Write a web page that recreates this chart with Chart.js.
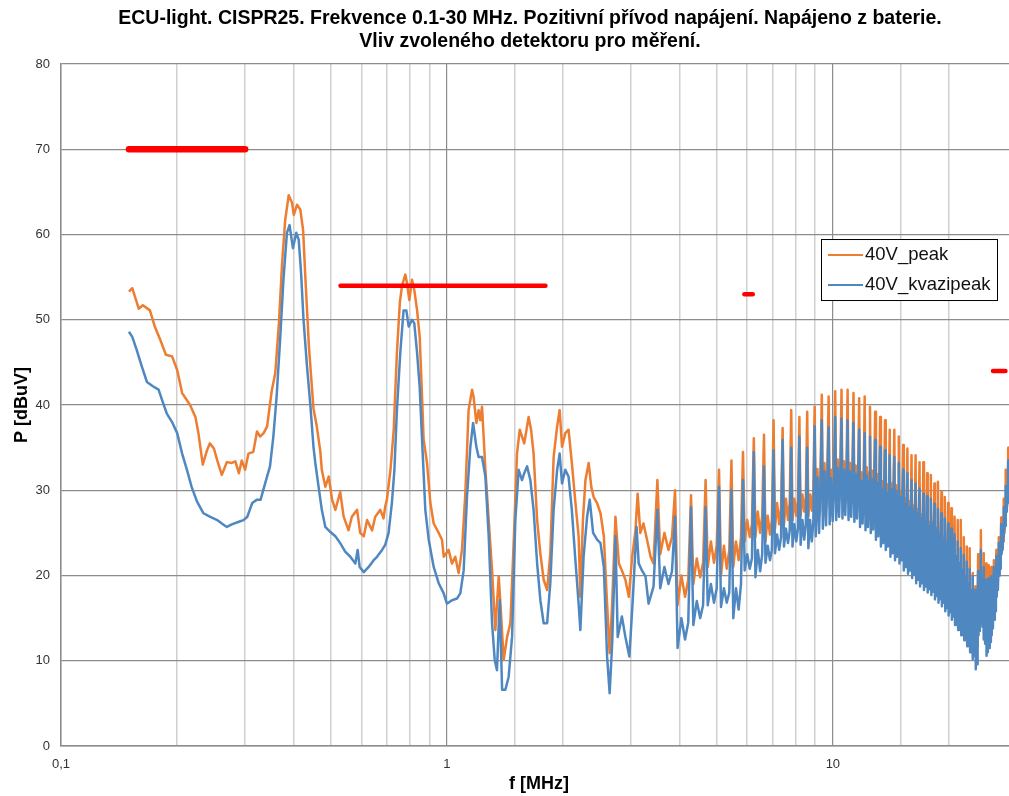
<!DOCTYPE html>
<html>
<head>
<meta charset="utf-8">
<script src="https://cdn.jsdelivr.net/npm/chart.js@4.4.0/dist/chart.umd.min.js"></script>
<style>
  html, body { margin: 0; padding: 0; background: #fff; overflow: hidden; }
</style>
</head>
<body>
<canvas id="chart" width="1060" height="796"></canvas>
<script>
// 40V_peak below the comb region (MHz / dBuV)
const peakFreqLow = [
  0.150, 0.153, 0.159, 0.163, 0.170, 0.175, 0.181, 0.187, 0.194, 0.200,
  0.206, 0.216, 0.223, 0.227, 0.233, 0.239, 0.243, 0.249, 0.254, 0.261,
  0.269, 0.277, 0.283, 0.289, 0.294, 0.300, 0.306, 0.315, 0.322, 0.328,
  0.335, 0.342, 0.352, 0.359, 0.367, 0.374, 0.381, 0.389, 0.397, 0.401,
  0.409, 0.417, 0.424, 0.430, 0.439, 0.451, 0.460, 0.470, 0.474, 0.484,
  0.494, 0.504, 0.514, 0.529, 0.540, 0.556, 0.567, 0.585, 0.596, 0.609,
  0.621, 0.640, 0.652, 0.672, 0.685, 0.692, 0.699, 0.714, 0.728, 0.742,
  0.755, 0.765, 0.780, 0.788, 0.799, 0.812, 0.823, 0.837, 0.850, 0.862,
  0.870, 0.888, 0.906, 0.924, 0.952, 0.971, 0.981, 1.010, 1.031, 1.051,
  1.072, 1.094, 1.116, 1.138, 1.162, 1.172, 1.192, 1.208, 1.220, 1.233,
  1.258, 1.283, 1.309, 1.335, 1.362, 1.376, 1.403, 1.432, 1.460, 1.489,
  1.519, 1.544, 1.565, 1.586, 1.613, 1.628, 1.652, 1.677, 1.713, 1.746,
  1.781, 1.818, 1.853, 1.890, 1.930, 1.959, 1.987, 2.026, 2.066, 2.107,
  2.149, 2.194, 2.217, 2.251, 2.285, 2.330, 2.366, 2.400, 2.450, 2.500,
  2.550, 2.600, 2.640, 2.680, 2.733, 2.790, 2.840, 2.900, 2.960, 3.020,
  3.080, 3.120, 3.170, 3.230, 3.300, 3.370, 3.430
]
const peakLow = [
  53.3, 53.7, 51.3, 51.7, 51.1, 49.2, 47.6, 45.9, 45.7, 44.1,
  41.4, 40.0, 38.6, 36.7, 33.0, 34.7, 35.5, 34.9, 33.5, 31.8,
  33.3, 33.2, 33.4, 32.0, 33.5, 32.4, 34.3, 34.5, 36.9, 36.3,
  36.7, 37.5, 41.8, 43.7, 49.6, 56.6, 61.7, 64.6, 63.7, 62.3,
  63.5, 62.9, 60.5, 54.7, 46.8, 39.6, 37.5, 34.5, 32.4, 30.4,
  31.6, 28.9, 27.7, 29.8, 26.9, 25.3, 26.9, 27.7, 25.0, 24.6,
  26.5, 25.3, 26.9, 27.7, 26.7, 28.1, 28.9, 32.4, 37.1, 46.1,
  52.0, 54.0, 55.3, 54.3, 52.3, 54.7, 53.5, 51.1, 48.0, 41.0,
  36.0, 33.2, 28.5, 26.1, 25.0, 24.2, 22.2, 23.0, 21.4, 22.2,
  20.3, 23.0, 29.6, 39.4, 41.8, 41.0, 37.9, 39.4, 38.2, 39.8,
  32.4, 26.5, 20.6, 13.6, 19.9, 16.7, 10.1, 12.8, 14.4, 23.8,
  34.3, 37.1, 36.3, 35.5, 37.5, 38.6, 37.1, 34.3, 26.5, 22.6,
  19.5, 18.3, 22.6, 33.9, 37.5, 39.4, 35.1, 36.7, 37.1, 33.2,
  28.9, 24.6, 17.5, 26.5, 31.2, 33.2, 30.4, 29.2, 28.5, 27.3,
  24.6, 16.7, 10.9, 16.7, 26.9, 21.4, 20.6, 19.5, 17.5, 22.2,
  25.3, 29.6, 25.0, 26.1, 24.2, 22.2, 21.4
]

// 40V_kvazipeak below the comb region
const qpFreqLow = [
  0.150, 0.153, 0.157, 0.162, 0.167, 0.173, 0.179, 0.184, 0.188, 0.194,
  0.200, 0.206, 0.212, 0.218, 0.225, 0.234, 0.243, 0.254, 0.261, 0.269,
  0.277, 0.289, 0.297, 0.304, 0.313, 0.322, 0.329, 0.338, 0.348, 0.355,
  0.362, 0.370, 0.377, 0.385, 0.391, 0.399, 0.407, 0.413, 0.419, 0.425,
  0.434, 0.443, 0.451, 0.456, 0.465, 0.474, 0.484, 0.499, 0.514, 0.529,
  0.545, 0.562, 0.579, 0.587, 0.594, 0.609, 0.627, 0.646, 0.659, 0.679,
  0.692, 0.706, 0.720, 0.731, 0.742, 0.757, 0.772, 0.785, 0.796, 0.812,
  0.823, 0.837, 0.850, 0.865, 0.879, 0.897, 0.924, 0.952, 0.981, 1.000,
  1.031, 1.062, 1.083, 1.105, 1.127, 1.150, 1.169, 1.192, 1.208, 1.233,
  1.258, 1.283, 1.309, 1.330, 1.348, 1.370, 1.390, 1.417, 1.445, 1.475,
  1.504, 1.534, 1.565, 1.586, 1.613, 1.645, 1.677, 1.713, 1.746, 1.781,
  1.818, 1.853, 1.890, 1.930, 1.959, 1.987, 2.026, 2.066, 2.107, 2.149,
  2.194, 2.217, 2.260, 2.308, 2.344, 2.392, 2.450, 2.500, 2.550, 2.600,
  2.640, 2.680, 2.733, 2.770, 2.840, 2.900, 2.970, 3.030, 3.100, 3.140,
  3.200, 3.270, 3.330, 3.430
]
const qpLow = [
  48.6, 48.0, 46.5, 44.5, 42.7, 42.2, 41.8, 40.2, 39.0, 38.0,
  36.7, 34.3, 32.4, 30.4, 28.7, 27.3, 26.9, 26.5, 26.1, 25.7,
  26.0, 26.3, 26.5, 26.9, 28.5, 28.9, 28.9, 30.8, 32.8, 36.3,
  41.0, 48.0, 54.7, 60.2, 61.1, 58.4, 60.2, 59.4, 55.4, 50.0,
  44.5, 39.8, 35.1, 33.2, 30.4, 27.7, 25.7, 25.1, 24.6, 23.8,
  22.8, 22.2, 21.4, 23.0, 21.0, 20.4, 21.0, 21.8, 22.2, 23.0,
  23.6, 25.0, 28.5, 32.4, 39.4, 46.1, 51.1, 51.1, 49.2, 50.0,
  49.6, 46.1, 42.1, 34.5, 27.7, 24.2, 21.0, 19.1, 17.9, 16.7,
  17.1, 17.3, 17.9, 20.6, 29.2, 35.1, 37.9, 35.1, 33.9, 33.9,
  31.6, 24.6, 14.4, 10.1, 8.9, 17.1, 6.6, 6.6, 8.1, 12.8,
  26.5, 32.4, 31.2, 32.0, 32.8, 31.2, 27.7, 21.4, 17.1, 14.4,
  14.4, 19.1, 27.7, 32.4, 34.3, 30.8, 32.4, 31.6, 27.7, 22.2,
  16.7, 13.6, 22.2, 26.9, 28.9, 25.0, 24.2, 23.8, 21.0, 10.5,
  6.2, 12.0, 24.6, 12.8, 15.2, 12.8, 10.5, 17.1, 25.7, 21.4,
  20.6, 19.9, 16.7, 18.7
]

// harmonic comb above 3.5 MHz, five samples per harmonic (spike first)
const combFreq = [
  3.51, 3.57, 3.66, 3.75, 3.83,   3.90, 3.96, 4.05, 4.14, 4.22,
  4.29, 4.35, 4.44, 4.53, 4.61,   4.68, 4.74, 4.83, 4.92, 5.00,
  5.07, 5.13, 5.22, 5.31, 5.39,   5.46, 5.52, 5.61, 5.70, 5.78,
  5.85, 5.91, 6.00, 6.09, 6.17,   6.24, 6.30, 6.39, 6.48, 6.56,
  6.63, 6.69, 6.78, 6.87, 6.95,   7.02, 7.08, 7.17, 7.26, 7.34,
  7.41, 7.47, 7.56, 7.65, 7.73,   7.80, 7.86, 7.95, 8.04, 8.12,
  8.19, 8.25, 8.34, 8.43, 8.51,   8.58, 8.64, 8.73, 8.82, 8.90,
  8.97, 9.03, 9.12, 9.21, 9.29,   9.36, 9.42, 9.51, 9.60, 9.68,
  9.75, 9.81, 9.90, 9.99, 10.07,   10.14, 10.20, 10.29, 10.38, 10.46,
  10.53, 10.59, 10.68, 10.77, 10.85,   10.92, 10.98, 11.07, 11.16, 11.24,
  11.31, 11.37, 11.46, 11.55, 11.63,   11.70, 11.76, 11.85, 11.94, 12.02,
  12.09, 12.15, 12.24, 12.33, 12.41,   12.48, 12.54, 12.63, 12.72, 12.80,
  12.87, 12.93, 13.02, 13.11, 13.19,   13.26, 13.32, 13.41, 13.50, 13.58,
  13.65, 13.71, 13.80, 13.89, 13.97,   14.04, 14.10, 14.19, 14.28, 14.36,
  14.43, 14.49, 14.58, 14.67, 14.75,   14.82, 14.88, 14.97, 15.06, 15.14,
  15.21, 15.27, 15.36, 15.45, 15.53,   15.60, 15.66, 15.75, 15.84, 15.92,
  15.99, 16.05, 16.14, 16.23, 16.31,   16.38, 16.44, 16.53, 16.62, 16.70,
  16.77, 16.83, 16.92, 17.01, 17.09,   17.16, 17.22, 17.31, 17.40, 17.48,
  17.55, 17.61, 17.70, 17.79, 17.87,   17.94, 18.00, 18.09, 18.18, 18.26,
  18.33, 18.39, 18.48, 18.57, 18.65,   18.72, 18.78, 18.87, 18.96, 19.04,
  19.11, 19.17, 19.26, 19.35, 19.43,   19.50, 19.56, 19.65, 19.74, 19.82,
  19.89, 19.95, 20.04, 20.13, 20.21,   20.28, 20.34, 20.43, 20.52, 20.60,
  20.67, 20.73, 20.82, 20.91, 20.99,   21.06, 21.12, 21.21, 21.30, 21.38,
  21.45, 21.51, 21.60, 21.69, 21.77,   21.84, 21.90, 21.99, 22.08, 22.16,
  22.23, 22.29, 22.38, 22.47, 22.55,   22.62, 22.68, 22.77, 22.86, 22.94,
  23.01, 23.07, 23.16, 23.25, 23.33,   23.40, 23.46, 23.55, 23.64, 23.72,
  23.79, 23.85, 23.94, 24.03, 24.11,   24.18, 24.24, 24.33, 24.42, 24.50,
  24.57, 24.63, 24.72, 24.81, 24.89,   24.96, 25.02, 25.11, 25.20, 25.28,
  25.35, 25.41, 25.50, 25.59, 25.67,   25.74, 25.80, 25.89, 25.98, 26.06,
  26.13, 26.19, 26.28, 26.37, 26.45,   26.52, 26.58, 26.67, 26.76, 26.84,
  26.91, 26.97, 27.06, 27.15, 27.23,   27.30, 27.36, 27.45, 27.54, 27.62,
  27.69, 27.75, 27.84, 27.93, 28.01,   28.08, 28.14, 28.23, 28.32, 28.40,
  28.47, 28.53, 28.62, 28.71, 28.79
]
const peakComb = [
  31.2, 22.5, 25.0, 23.0, 24.5,   30.0, 16.5, 20.0, 17.5, 19.5,
  29.4, 19.0, 22.0, 19.8, 21.5,   31.2, 21.0, 24.0, 21.5, 23.5,
  32.4, 20.0, 23.5, 20.8, 23.0,   33.5, 21.0, 24.0, 21.8, 24.5,
  34.5, 24.0, 26.5, 24.5, 26.0,   36.1, 24.5, 27.5, 25.0, 27.0,
  36.5, 24.0, 27.0, 24.8, 26.5,   38.2, 25.5, 28.5, 26.0, 28.0,
  37.3, 26.0, 29.0, 26.5, 28.5,   39.4, 26.5, 29.0, 27.0, 28.8,
  38.6, 27.0, 29.5, 27.5, 29.2,   39.2, 27.0, 29.5, 27.6, 30.0,
  39.8, 26.6, 32.5, 27.0, 31.9,   41.2, 27.5, 33.2, 27.9, 32.6,
  41.0, 28.0, 32.4, 28.4, 31.8,   41.6, 28.5, 33.6, 28.9, 33.0,
  41.8, 28.7, 33.4, 29.1, 32.8,   41.8, 28.5, 33.2, 28.9, 32.6,
  41.4, 28.3, 32.9, 28.7, 32.3,   40.8, 27.7, 32.1, 28.1, 31.5,
  41.0, 27.3, 32.7, 27.7, 32.1,   39.8, 27.0, 32.3, 27.4, 31.7,
  39.2, 26.2, 31.9, 26.6, 31.3,   38.6, 25.4, 31.1, 25.8, 30.5,
  38.2, 25.0, 30.7, 25.4, 30.1,   37.1, 24.2, 30.8, 24.6, 30.2,
  37.1, 23.8, 30.6, 24.2, 30.0,   36.3, 23.4, 29.9, 23.8, 29.3,
  35.3, 22.6, 29.1, 23.0, 28.5,   34.9, 22.2, 28.7, 22.6, 28.1,
  34.1, 21.7, 28.2, 22.1, 27.6,   34.1, 21.1, 27.8, 21.5, 27.2,
  33.3, 20.7, 27.2, 21.1, 26.6,   33.3, 20.3, 26.6, 20.7, 26.0,
  32.0, 20.0, 26.3, 20.4, 25.7,   31.8, 19.7, 26.3, 20.1, 25.7,
  30.8, 19.2, 25.7, 19.6, 25.1,   31.0, 18.8, 25.1, 19.2, 24.5,
  29.8, 18.4, 24.6, 18.8, 24.0,   29.2, 17.8, 24.0, 18.2, 23.4,
  28.5, 17.3, 23.1, 17.7, 22.5,   27.9, 16.8, 22.5, 17.2, 21.9,
  26.9, 16.2, 21.8, 16.6, 21.2,   26.5, 15.6, 21.0, 16.0, 20.4,
  26.5, 15.0, 20.2, 15.4, 19.6,   24.5, 14.4, 19.4, 14.8, 18.8,
  23.4, 13.7, 18.6, 14.1, 18.0,   23.2, 13.0, 17.8, 13.4, 17.2,
  20.3, 12.2, 16.9, 12.6, 16.3,   18.7, 11.0, 15.3, 11.6, 15.0,
  22.5, 15.0, 17.5, 15.5, 17.0,   25.3, 16.8, 19.0, 16.0, 18.0,
  22.6, 14.5, 18.0, 14.0, 17.0,   21.4, 12.6, 16.5, 13.0, 16.3,
  21.2, 13.5, 16.7, 14.2, 16.5,   21.0, 15.0, 16.9, 15.8, 17.1,
  21.8, 16.8, 18.0, 17.8, 18.5,   23.0, 19.5, 19.3, 20.3, 20.0,
  24.5, 22.0, 20.8, 22.8, 21.7,   26.8, 24.5, 23.0, 25.2, 24.0,
  29.0, 27.0, 25.0, 27.8, 26.3,   32.4, 29.5, 27.5, 30.5, 29.0,
  35.0, 33.0, 30.5, 33.8, 32.0
]
const qpComb = [
  27.7, 18.5, 21.0, 19.0, 20.5,   26.9, 11.5, 15.0, 12.5, 14.5,
  28.0, 14.2, 17.0, 15.0, 16.5,   28.0, 16.5, 19.0, 16.8, 18.5,
  30.4, 16.3, 18.5, 16.8, 18.0,   30.0, 15.0, 18.5, 16.0, 19.0,
  31.2, 20.6, 22.5, 20.8, 22.0,   34.5, 19.8, 23.0, 20.5, 22.5,
  32.8, 21.5, 23.5, 21.8, 23.0,   34.7, 22.6, 24.8, 23.0, 24.5,
  35.9, 23.4, 25.5, 23.8, 25.2,   35.0, 23.4, 26.0, 24.0, 25.5,
  36.3, 23.6, 26.5, 24.2, 26.0,   35.0, 23.2, 26.5, 24.0, 26.2,
  37.5, 24.6, 31.5, 25.0, 30.9,   38.2, 25.5, 32.2, 25.9, 31.6,
  37.4, 26.0, 31.4, 26.4, 30.8,   38.6, 26.5, 32.6, 26.9, 32.0,
  38.4, 26.7, 32.4, 27.1, 31.8,   38.2, 26.5, 32.2, 26.9, 31.6,
  37.9, 26.3, 31.9, 26.7, 31.3,   37.1, 25.7, 31.1, 26.1, 30.5,
  36.7, 25.3, 31.7, 25.7, 31.1,   36.3, 25.0, 31.3, 25.4, 30.7,
  35.9, 24.2, 30.9, 24.6, 30.3,   35.1, 23.4, 30.1, 23.8, 29.5,
  34.7, 23.0, 29.7, 23.4, 29.1,   34.1, 22.2, 30.1, 22.6, 29.5,
  33.9, 21.8, 29.9, 22.2, 29.3,   33.2, 21.4, 29.2, 21.8, 28.6,
  32.4, 20.6, 28.4, 21.0, 27.8,   32.0, 20.2, 28.0, 20.6, 27.4,
  31.2, 19.7, 27.7, 20.1, 27.1,   30.8, 19.1, 27.3, 19.5, 26.7,
  30.2, 18.7, 26.7, 19.1, 26.1,   29.6, 18.3, 26.1, 18.7, 25.5,
  29.3, 18.0, 25.8, 18.4, 25.2,   29.0, 17.7, 26.0, 18.1, 25.4,
  28.4, 17.2, 25.4, 17.6, 24.8,   27.8, 16.8, 24.8, 17.2, 24.2,
  27.3, 16.4, 24.3, 16.8, 23.7,   26.7, 15.8, 23.7, 16.2, 23.1,
  26.1, 15.3, 23.6, 15.7, 23.0,   25.5, 14.8, 23.0, 15.2, 22.4,
  24.8, 14.2, 22.3, 14.6, 21.7,   24.0, 13.6, 21.5, 14.0, 20.9,
  23.2, 13.0, 20.7, 13.4, 20.1,   22.4, 12.4, 19.9, 12.8, 19.3,
  21.6, 11.7, 19.1, 12.1, 18.5,   20.8, 11.0, 18.3, 11.4, 17.7,
  19.9, 10.2, 17.4, 10.6, 16.8,   18.3, 9.0, 15.8, 9.6, 15.5,
  20.5, 13.0, 18.0, 13.5, 17.5,   23.0, 14.8, 19.5, 14.0, 18.5,
  21.0, 12.5, 18.5, 12.0, 17.5,   19.5, 10.6, 17.0, 11.0, 16.8,
  19.7, 11.5, 17.2, 12.2, 17.0,   19.9, 13.0, 17.4, 13.8, 17.6,
  21.0, 14.8, 18.5, 15.8, 19.0,   22.3, 17.5, 19.8, 18.3, 20.5,
  23.8, 20.0, 21.3, 20.8, 22.2,   26.0, 22.5, 23.5, 23.2, 24.5,
  28.0, 25.0, 25.5, 25.8, 26.8,   30.5, 27.5, 28.0, 28.5, 29.5,
  33.5, 31.0, 31.0, 31.8, 32.5
]

// CISPR 25 limit segments
const limitBands = [[0.15, 0.30], [0.53, 1.8], [5.9, 6.2], [26, 28]]
const limitLevels = [70, 54, 53, 44]

const yTicks = [0, 10, 20, 30, 40, 50, 60, 70, 80]

const FONT = "'Liberation Sans', Arial, sans-serif"

function toPoints(freqs, levels) {
  return freqs.map((f, i) => ({ x: f, y: levels[i] }))
}

function isDecade(v) {
  const e = Math.log10(v)
  return Math.abs(e - Math.round(e)) < 1e-6
}

const seriesDatasets = [
  {
    label: '40V_peak',
    data: toPoints(peakFreqLow.concat(combFreq), peakLow.concat(peakComb)),
    borderColor: '#ed7d31',
    borderWidth: 2.5,
    order: 2,
    inLegend: true,
  },
  {
    label: '40V_kvazipeak',
    data: toPoints(qpFreqLow.concat(combFreq), qpLow.concat(qpComb)),
    borderColor: '#4f88c1',
    borderWidth: 2.5,
    order: 1,
    inLegend: true,
  },
]

const limitDatasets = limitBands.map((band, i) => ({
  label: 'limit',
  data: band.map((f) => ({ x: f, y: limitLevels[i] })),
  borderColor: '#ff0000',
  borderWidth: i === 0 ? 6.5 : 4.5,
  borderCapStyle: 'round',
  order: 0,
}))

// legend box sitting inside the plot area
const boxLegend = {
  id: 'boxLegend',
  afterDraw(chart) {
    const { ctx, chartArea } = chart
    const left = chartArea.right - 196
    const top = chartArea.top + 175
    ctx.save()
    ctx.fillStyle = '#fff'
    ctx.fillRect(left, top, 176, 61)
    ctx.strokeStyle = '#000'
    ctx.lineWidth = 1
    ctx.strokeRect(left + 0.5, top + 0.5, 176, 61)
    const items = chart.data.datasets.filter((d) => d.inLegend)
    ctx.font = '18.5px ' + FONT
    ctx.textBaseline = 'middle'
    items.forEach((d, i) => {
      const y = top + 16 + i * 30
      ctx.strokeStyle = d.borderColor
      ctx.lineWidth = 2.2
      ctx.beginPath()
      ctx.moveTo(left + 7, y)
      ctx.lineTo(left + 42, y)
      ctx.stroke()
      ctx.fillStyle = '#111'
      ctx.fillText(d.label, left + 44, y)
    })
    ctx.restore()
  },
}

const canvas = document.getElementById('chart')

new Chart(canvas, {
  type: 'line',
  data: { datasets: seriesDatasets.concat(limitDatasets) },
  options: {
    responsive: false,
    animation: false,
    devicePixelRatio: 1,
    layout: { padding: 0 },
    elements: {
      point: { radius: 0 },
      line: { tension: 0, borderJoinStyle: 'round', fill: false },
    },
    plugins: {
      legend: { display: false },
      tooltip: { enabled: false },
      title: {
        display: true,
        text: [
          'ECU-light. CISPR25. Frekvence 0.1-30 MHz. Pozitivní přívod napájení. Napájeno z baterie.',
          'Vliv zvoleného detektoru pro měření.',
        ],
        color: '#000',
        font: { family: FONT, size: 19.5, weight: 'bold', lineHeight: 1.18 },
        padding: { top: 7, bottom: 11 },
      },
    },
    scales: {
      x: {
        type: 'logarithmic',
        min: 0.1,
        max: 30,
        afterFit: (axis) => {
          axis.height = 50
        },
        grid: {
          drawTicks: false,
          color: (c) => (c.tick && isDecade(c.tick.value) ? '#8c8c8c' : '#d0d0d0'),
          lineWidth: (c) => (c.tick && isDecade(c.tick.value) ? 1.2 : 1.5),
        },
        border: { color: '#8c8c8c', width: 1.5 },
        ticks: {
          autoSkip: false,
          maxRotation: 0,
          padding: 11,
          color: '#333',
          font: { family: FONT, size: 13 },
          callback: (v) => (isDecade(v) ? String(v).replace('.', ',') : ''),
        },
        title: {
          display: true,
          text: 'f [MHz]',
          color: '#000',
          font: { family: FONT, size: 18, weight: 'bold' },
          padding: { top: 2, bottom: 1 },
        },
      },
      y: {
        min: 0,
        max: 80,
        afterBuildTicks: (axis) => {
          axis.ticks = yTicks.map((v) => ({ value: v }))
        },
        afterFit: (axis) => {
          axis.width = 61
        },
        grid: { drawTicks: false, color: '#8c8c8c', lineWidth: 1.2 },
        border: { color: '#8c8c8c', width: 1.5 },
        ticks: {
          padding: 11,
          color: '#333',
          font: { family: FONT, size: 13 },
        },
        title: {
          display: true,
          text: 'P [dBuV]',
          color: '#000',
          font: { family: FONT, size: 18, weight: 'bold' },
          padding: { top: 11, bottom: 0 },
        },
      },
      // empty right-hand axis that only reserves room past 30 MHz
      yRight: {
        position: 'right',
        min: 0,
        max: 80,
        grid: { display: false },
        border: { display: false },
        ticks: { display: false },
        afterFit: (axis) => {
          axis.width = 43
        },
      },
    },
  },
  plugins: [boxLegend],
})
</script>
</body>
</html>
